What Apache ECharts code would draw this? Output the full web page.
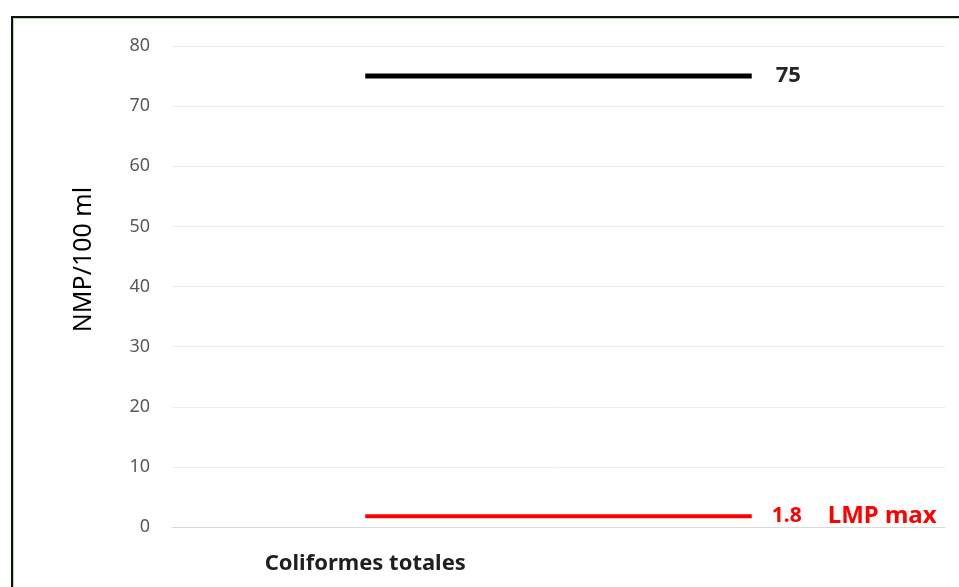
<!DOCTYPE html>
<html>
<head>
<meta charset="utf-8">
<script src="https://cdn.jsdelivr.net/npm/echarts@6/dist/echarts.min.js"></script>
<style>
  html, body { margin: 0; padding: 0; background: #fff; overflow: hidden; }
  #frame {
    position: absolute; left: 11px; top: 16px; width: 1000px; height: 700px;
    border-top: 2px solid #111; border-left: 2px solid #111;
    box-shadow: inset 1px 1px 0 #b6dca0;
  }
  #myChart { position: absolute; left: 0; top: 0; width: 959px; height: 587px; }
</style>
</head>
<body>
<div id="frame"></div>
<div id="myChart"></div>
<script>
  // categories (second one is blank, the lines run from one centre to the next)
  let categories = ['Coliformes totales', ''];
  let measured = [75, 75];
  let limitMax = [1.8, 1.8];
  let yTicks = [0, 10, 20, 30, 40, 50, 60, 70, 80];

  let font = '"Noto Sans", "Open Sans", sans-serif';

  let option = {
    animation: false,
    grid: { left: 172, right: 14, top: 46, bottom: 60 },
    xAxis: {
      type: 'category',
      data: categories,
      boundaryGap: true,
      axisTick: { show: false },
      axisLine: { lineStyle: { color: '#d9d9d9', width: 1 } },
      axisLabel: {
        margin: 26,
        fontFamily: font, fontSize: 22, fontWeight: 'bold', color: '#1f1f1f'
      }
    },
    yAxis: {
      type: 'value',
      min: yTicks[0],
      max: yTicks[yTicks.length - 1],
      interval: 10,
      name: 'NMP/100 ml',
      nameLocation: 'middle',
      nameGap: 76,
      nameTextStyle: { fontFamily: font, fontSize: 25, color: '#000', padding: [0, 0, 0, 54] },
      axisLine: { show: false },
      axisTick: { show: false },
      splitLine: { lineStyle: { color: '#ededed', width: 1 } },
      axisLabel: { margin: 22, fontFamily: font, fontSize: 18, color: '#595959' }
    },
    series: [
      {
        name: 'Coliformes totales',
        type: 'line',
        data: measured,
        showSymbol: false,
        lineStyle: { color: '#000', width: 5 },
        endLabel: {
          show: true,
          distance: 24,
          formatter: '{c}',
          fontFamily: font, fontSize: 22, fontWeight: 'bold', color: '#262626'
        }
      },
      {
        name: 'LMP max',
        type: 'line',
        data: limitMax,
        showSymbol: false,
        lineStyle: { color: '#ff0000', width: 4 },
        endLabel: {
          show: true,
          distance: 20,
          formatter: '{v|{c}}{n|LMP max}',
          color: '#ff0000',
          rich: {
            v: { fontFamily: font, fontSize: 21, fontWeight: 'bold', color: '#ff0000', width: 56 },
            n: { fontFamily: font, fontSize: 24, fontWeight: 'bold', color: '#ff0000' }
          }
        }
      }
    ]
  };

  let myChart = echarts.init(document.getElementById('myChart'));
  myChart.setOption(option);
</script>
</body>
</html>
